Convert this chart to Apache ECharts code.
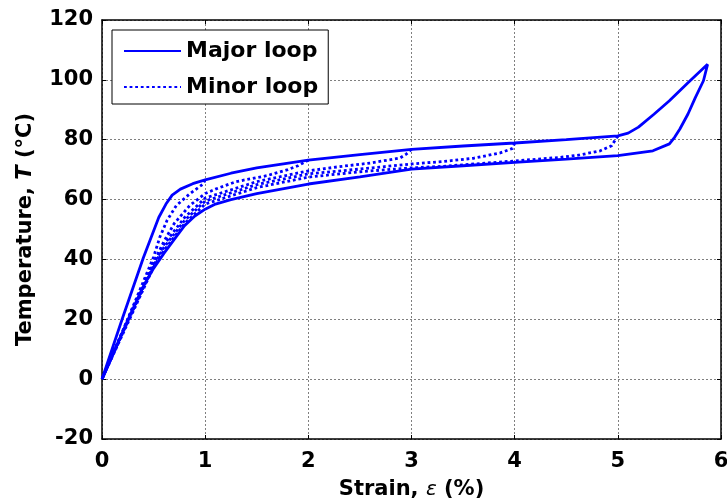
<!DOCTYPE html>
<html>
<head>
<meta charset="utf-8">
<script src="https://cdn.jsdelivr.net/npm/echarts@6/dist/echarts.min.js"></script>
<style>
html, body { margin: 0; padding: 0; background: #fff; }
#box { width: 727px; height: 504px; }
</style>
</head>
<body>
<div id="box"></div>
<script>
// major loop: loading (upper) then unloading (lower) back to origin
const majorStrain = [0, 0.2, 0.4, 0.55, 0.62, 0.68, 0.76, 0.88, 1.0, 1.25, 1.5, 2.0, 2.5, 3.0, 3.5, 4.0, 4.5, 5.0, 5.1, 5.2, 5.35, 5.5, 5.68, 5.87,
                     5.83, 5.75, 5.68, 5.6, 5.55, 5.5, 5.34, 5.0, 4.5, 4.0, 3.5, 3.0, 2.5, 2.0, 1.5, 1.25, 1.1, 1.0, 0.9, 0.8, 0.72, 0.6, 0.5, 0.4, 0.25, 0.1, 0]
const majorTemp   = [0, 20.5, 40.5, 54, 58.5, 61.5, 63.5, 65.3, 66.6, 68.8, 70.6, 73.2, 75, 76.8, 77.9, 78.9, 80, 81.3, 82.2, 84.2, 88.5, 93, 99, 105.2,
                     99.7, 94, 88.6, 83.5, 80.8, 78.6, 76.3, 74.7, 73.5, 72.4, 71.3, 70.2, 67.6, 65.2, 62, 60, 58.5, 56.8, 54.5, 51.3, 47.6, 42, 37, 31, 19.7, 8, 0]

// minor loops: unloading paths from strain 1..5 %
const minor1Strain = [1.0, 0.98, 0.85, 0.72, 0.63, 0.56, 0.5, 0.4, 0.2, 0]
const minor1Temp   = [66.6, 65.2, 61.9, 58, 53, 47.4, 40.8, 32.5, 16, 0]
const minor2Strain = [2.0, 1.9, 1.8, 1.6, 1.3, 1.1, 1.0, 0.85, 0.7, 0.6, 0.5, 0.3, 0]
const minor2Temp   = [73.2, 71.3, 70, 68, 66, 63.5, 62, 58, 52, 46, 39, 24, 0]
const minor3Strain = [3.0, 2.95, 2.89, 2.6, 2.3, 2.0, 1.5, 1.0, 0.8, 0.6, 0.5, 0.3, 0]
const minor3Temp   = [76.8, 75.2, 73.9, 72.2, 71, 69.6, 66, 60.5, 54, 45, 38.5, 23.5, 0]
const minor4Strain = [4.0, 3.98, 3.86, 3.6, 3.3, 3.0, 2.5, 2.0, 1.5, 1.0, 0.8, 0.6, 0.5, 0.3, 0]
const minor4Temp   = [78.9, 77.1, 75.6, 73.8, 72.7, 71.9, 70.2, 68.6, 65, 59.5, 53, 44, 38, 23, 0]
const minor5Strain = [5.0, 4.94, 4.83, 4.63, 4.44, 4.0, 3.3, 3.0, 2.5, 2.0, 1.5, 1.0, 0.8, 0.6, 0.5, 0.3, 0]
const minor5Temp   = [81.3, 78, 76.3, 74.9, 74.1, 72.9, 71.1, 70.6, 69.3, 67.5, 64, 58.5, 52, 43, 37.5, 22.5, 0]

const minorLoops = [
    [minor1Strain, minor1Temp],
    [minor2Strain, minor2Temp],
    [minor3Strain, minor3Temp],
    [minor4Strain, minor4Temp],
    [minor5Strain, minor5Temp]
]

const zip = (xs, ys) => xs.map((x, i) => [x, ys[i]])

const font = 'DejaVu Sans'
const blue = '#0000ff'

const boxAxis = {
    axisLine: { show: true, onZero: false, lineStyle: { color: '#000', width: 1.5 } },
    axisTick: { show: true, inside: true, length: 4, lineStyle: { color: '#000', width: 1 } }
}

let series = [{
    name: 'Major loop',
    type: 'line',
    data: zip(majorStrain, majorTemp),
    showSymbol: false,
    symbol: 'none',
    lineStyle: { color: blue, width: 2.8, type: 'solid' },
    itemStyle: { color: blue },
    z: 3
}]
minorLoops.forEach(loop => {
    series.push({
        name: 'Minor loop',
        type: 'line',
        data: zip(loop[0], loop[1]),
        showSymbol: false,
        symbol: 'none',
        lineStyle: { color: blue, width: 2.8, type: [2.8, 2.8] },
        itemStyle: { color: blue },
        z: 2
    })
})

let chart = echarts.init(document.getElementById('box'), null, { renderer: 'canvas' })
chart.setOption({
    animation: false,
    backgroundColor: '#fff',
    grid: { left: 102, right: 6, top: 20, bottom: 65, containLabel: false, outerBoundsMode: 'none' },
    legend: {
        data: ['Major loop', 'Minor loop'],
        orient: 'vertical',
        left: 112,
        top: 30,
        padding: [10, 10, 6, 11],
        itemWidth: 57,
        itemHeight: 14,
        itemGap: 14,
        backgroundColor: '#fff',
        borderColor: '#000',
        borderWidth: 1,
        borderRadius: 0,
        itemStyle: { opacity: 0 },
        textStyle: { fontFamily: font, fontWeight: 'bold', fontSize: 22, color: '#000' }
    },
    xAxis: [{
        type: 'value',
        min: 0, max: 6, interval: 1,
        position: 'bottom',
        name: 'Strain, {e|ε} (%)',
        nameLocation: 'middle',
        nameGap: 40,
        nameMoveOverlap: false,
        nameTextStyle: {
            fontFamily: font, fontWeight: 'bold', fontSize: 21, color: '#000',
            rich: { e: { fontFamily: font, fontStyle: 'italic', fontWeight: 'normal', fontSize: 20, color: '#000' } }
        },
        ...boxAxis,
        axisLabel: { margin: 12, fontFamily: font, fontWeight: 'bold', fontSize: 21, color: '#000' },
        splitLine: { show: true, lineStyle: { color: '#7f7f7f', width: 1, type: [2, 2] } }
    }, {
        type: 'value',
        min: 0, max: 6, interval: 1,
        position: 'top',
        ...boxAxis,
        axisLabel: { show: false },
        splitLine: { show: false }
    }],
    yAxis: [{
        type: 'value',
        min: -20, max: 120, interval: 20,
        position: 'left',
        name: 'Temperature, {t|T} (°C)',
        nameLocation: 'middle',
        nameGap: 66,
        nameMoveOverlap: false,
        nameTextStyle: {
            fontFamily: font, fontWeight: 'bold', fontSize: 21, color: '#000',
            rich: { t: { fontFamily: font, fontStyle: 'italic', fontWeight: 'bold', fontSize: 21, color: '#000' } }
        },
        ...boxAxis,
        axisLabel: { margin: 9, fontFamily: font, fontWeight: 'bold', fontSize: 21, color: '#000' },
        splitLine: { show: true, lineStyle: { color: '#7f7f7f', width: 1, type: [2, 2] } }
    }, {
        type: 'value',
        min: -20, max: 120, interval: 20,
        position: 'right',
        ...boxAxis,
        axisLabel: { show: false },
        splitLine: { show: false }
    }],
    series: series
})
</script>
</body>
</html>
